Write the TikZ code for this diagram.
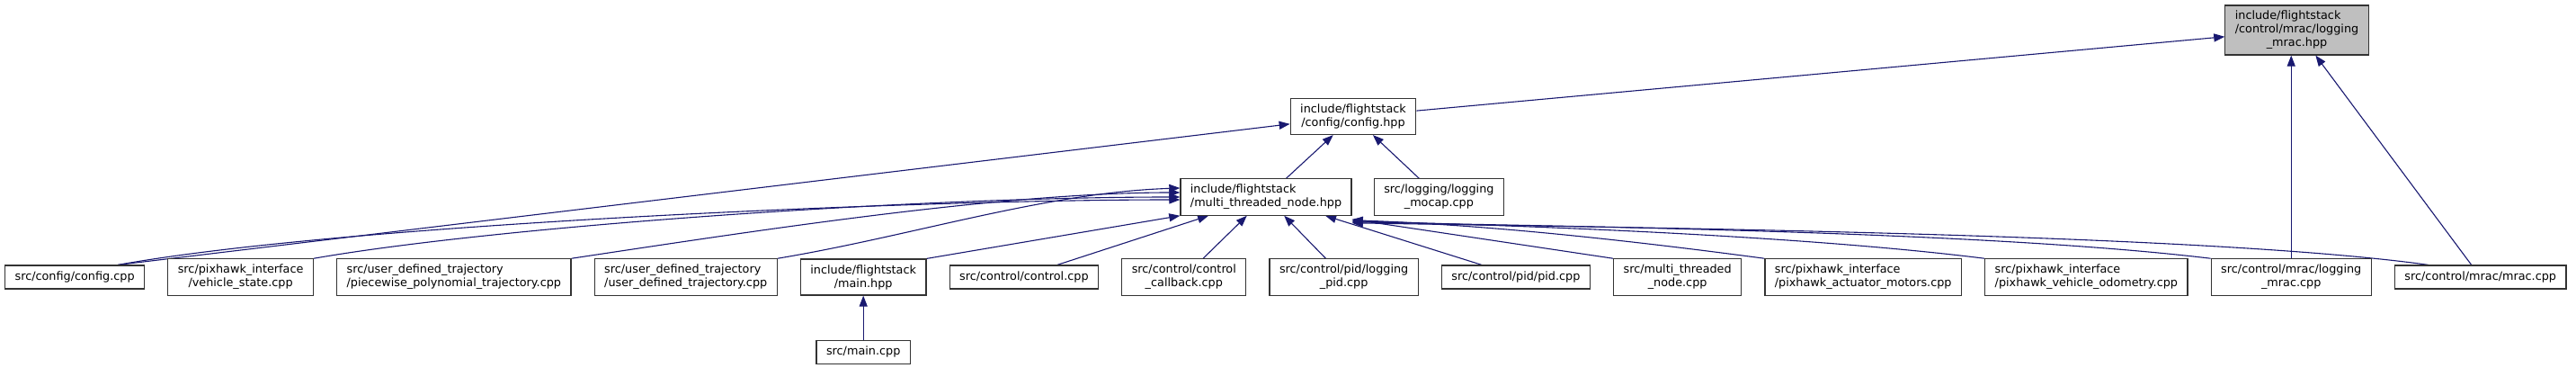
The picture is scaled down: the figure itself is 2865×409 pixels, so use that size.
\documentclass[tikz,border=0pt]{standalone}
\usepackage{fontspec}
\setmainfont{DejaVu Sans}
\usetikzlibrary{%
	arrows.meta,%
	positioning,%
	backgrounds,%
}
\definecolor{dblue}{RGB}{25, 25, 112}
\definecolor{dgray}{RGB}{191, 191, 191}
\tikzset{
	>={Triangle[length=12pt,width=9pt]},%
	filenode/.style={%
			draw=black!80,%
			rectangle,%
			line width=1.2pt,%
			fill=white,%
			inner xsep=11pt,%
			inner ysep=6.3pt,%
			minimum height=26pt},%
	rootnode/.style={%
			filenode,%
			fill=dgray,%
			inner ysep=5pt},%
	incl/.style={%
			draw=dblue,%
			line width=1.1pt},%
}

\begin{document}
\begin{tikzpicture}[x=1pt, y=-1pt, nodes={font={\fontsize{12.8}{15}\selectfont}}, node distance=25pt]%
	\useasboundingbox (0,0) rectangle (2865,409);

	\node[rootnode] (lmh) at (2554.5,33.5) {\begin{tabular}{@{}l@{}}
			include/flightstack                          \\
			/control/mrac/logging                        \\
			\multicolumn{1}{@{}c@{}}{\_mrac.hpp}          \\
		\end{tabular}};

	\node[filenode, align=center] (cfh) at (1505,129.5) {include/flightstack\\/config/config.hpp};

	\node[filenode, align=left] (mtn) at (1408,219) {include/flightstack\\/multi\_threaded\_node.hpp};
	\node[filenode, align=center, right=24pt of mtn] (moc) {src/logging/logging\\\_mocap.cpp};

	\node[filenode, anchor=west] (cfc) at (5,308) {src/config/config.cpp};
	\node[filenode, align=center, right=of cfc] (vst) {src/pixhawk\_interface\\/vehicle\_state.cpp};
	\node[filenode, align=left, right=of vst] (ppt) {src/user\_defined\_trajectory\\/piecewise\_polynomial\_trajectory.cpp};
	\node[filenode, align=left, right=of ppt] (udt) {src/user\_defined\_trajectory\\/user\_defined\_trajectory.cpp};
	\node[filenode, align=center, right=of udt] (mnh) {include/flightstack\\/main.hpp};
	\node[filenode, below=49pt of mnh] (mnc) {src/main.cpp};
	\node[filenode, right=of mnh] (ctl) {src/control/control.cpp};
	\node[filenode, align=center, right=of ctl] (ccb) {src/control/control\\\_callback.cpp};
	\node[filenode, align=center, right=of ccb] (lpd) {src/control/pid/logging\\\_pid.cpp};
	\node[filenode, right=of lpd] (pid) {src/control/pid/pid.cpp};
	\node[filenode, align=center, right=of pid] (mtc) {src/multi\_threaded\\\_node.cpp};
	\node[filenode, align=left, right=of mtc] (pam) {src/pixhawk\_interface\\/pixhawk\_actuator\_motors.cpp};
	\node[filenode, align=left, right=of pam] (pvo) {src/pixhawk\_interface\\/pixhawk\_vehicle\_odometry.cpp};
	\node[filenode, align=center, right=of pvo] (lmc) {src/control/mrac/logging\\\_mrac.cpp};
	\node[filenode, right=of lmc] (mrc) {src/control/mrac/mrac.cpp};

	\begin{scope}[on background layer]
		\draw[->, incl] (cfh) -- (lmh);
		\draw[->, incl] (lmc) -- (lmc |- lmh.south);
		\draw[->, incl] (mrc) -- (lmh);
		\draw[->, incl] (mtn) -- (cfh);
		\draw[->, incl] (moc) -- (cfh);
		\draw[->, incl] ([xshift=48pt]cfc.north) -- (cfh);
		\draw[->, incl] ([xshift=48pt]cfc.north) .. controls +(250,-45) and +(-300,0) .. ([yshift=-3pt]mtn.west);
		\draw[->, incl] (vst.north east) .. controls +(200,-35) and +(-300,0) .. (mtn.west);
		\draw[->, incl] (ppt.north east) .. controls +(200,-30) and +(-200,0) .. ([yshift=5pt]mtn.west);
		\draw[->, incl] (udt.north east) .. controls +(150,-25) and +(-150,5) .. ([yshift=10pt]mtn.west);
		\draw[->, incl] (mnh.north east) -- (mtn.south west);
		\draw[->, incl] ([xshift=37pt]ctl.north) -- (mtn);
		\draw[->, incl] (ccb) -- (mtn);
		\draw[->, incl] (lpd) -- (mtn);
		\draw[->, incl] ([xshift=-38pt]pid.north) -- (mtn);
		\draw[->, incl] (mtc.north west) -- ([yshift=-4pt]mtn.south east);
		\draw[->, incl] (pam.north west) .. controls +(-150,-20) and +(150,5) .. ([yshift=-5pt]mtn.south east);
		\draw[->, incl] (pvo.north west) .. controls +(-200,-25) and +(200,5) .. ([yshift=-6pt]mtn.south east);
		\draw[->, incl] (lmc.north west) .. controls +(-250,-30) and +(250,5) .. ([yshift=-7pt]mtn.south east);
		\draw[->, incl] ([xshift=-58pt]mrc.north) .. controls +(-250,-35) and +(300,5) .. ([yshift=-8pt]mtn.south east);
		\draw[->, incl] (mnc) -- (mnh);
	\end{scope}
\end{tikzpicture}
\end{document}
